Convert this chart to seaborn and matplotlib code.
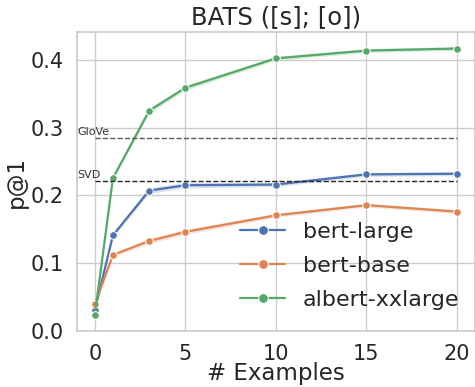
import matplotlib
matplotlib.use("Agg")
import matplotlib.pyplot as plt
import numpy as np
import pandas as pd
import seaborn as sns

# Few-shot results on BATS, averaged over runs
examples = [0, 1, 3, 5, 10, 15, 20]
bert_large = [0.030, 0.141, 0.207, 0.215, 0.216, 0.231, 0.232]
bert_base = [0.039, 0.112, 0.1325, 0.146, 0.1705, 0.1855, 0.176]
albert_xxlarge = [0.023, 0.2255, 0.325, 0.359, 0.4025, 0.414, 0.417]
# half-width of the spread across runs
spread = [0.002, 0.003, 0.004, 0.004, 0.003, 0.003, 0.003]

models = ["bert-large", "bert-base", "albert-xxlarge"]
baseline_names = ["GloVe", "SVD"]
baseline_values = [0.285, 0.221]

df = pd.DataFrame({
    "# Examples": examples * 3,
    "p@1": bert_large + bert_base + albert_xxlarge,
    "model": sum([[m] * len(examples) for m in models], []),
})

sns.set_theme(style="whitegrid", palette="deep")
plt.rcParams["font.family"] = ["DejaVu Sans"]

fig, ax = plt.subplots(figsize=(4.75, 3.87), dpi=100)
sns.lineplot(data=df, x="# Examples", y="p@1", hue="model", marker="o",
             markersize=5.5, linewidth=1.6, errorbar=None, ax=ax)

colors = sns.color_palette("deep")
for i, vals in enumerate([bert_large, bert_base, albert_xxlarge]):
    v = np.array(vals)
    s = np.array(spread)
    ax.fill_between(examples, v - s, v + s, color=colors[i], alpha=0.2, linewidth=0)

for name, val, col in zip(baseline_names, baseline_values, ["0.35", "0.15"]):
    ax.hlines(val, 0, 20, colors=col, linestyles="--", linewidth=1.0)
    ax.text(-0.95, val + 0.002, name, fontsize=8, color="0.2", va="bottom", ha="left")

ax.set_title("BATS ([s]; [o])", fontsize=17.5)
ax.set_xlabel("# Examples", fontsize=16.5, labelpad=-1)
ax.set_ylabel("p@1", fontsize=16.5, labelpad=2)
ax.tick_params(labelsize=15)
ax.set_xlim(-1, 21)
ax.set_ylim(0, 0.441)
ax.set_xticks([0, 5, 10, 15, 20])
ax.set_yticks([0.0, 0.1, 0.2, 0.3, 0.4])

leg = ax.legend(loc="lower right", fontsize=16, frameon=False, title=None,
                handlelength=2.0, labelspacing=0.63, borderaxespad=0.4,
                bbox_to_anchor=(1.005, 0.01))
for h in leg.legend_handles:
    h.set_markersize(7)

fig.subplots_adjust(left=0.1615, right=1.0, top=0.9165, bottom=0.1455)
fig.savefig("out.png", dpi=100)
